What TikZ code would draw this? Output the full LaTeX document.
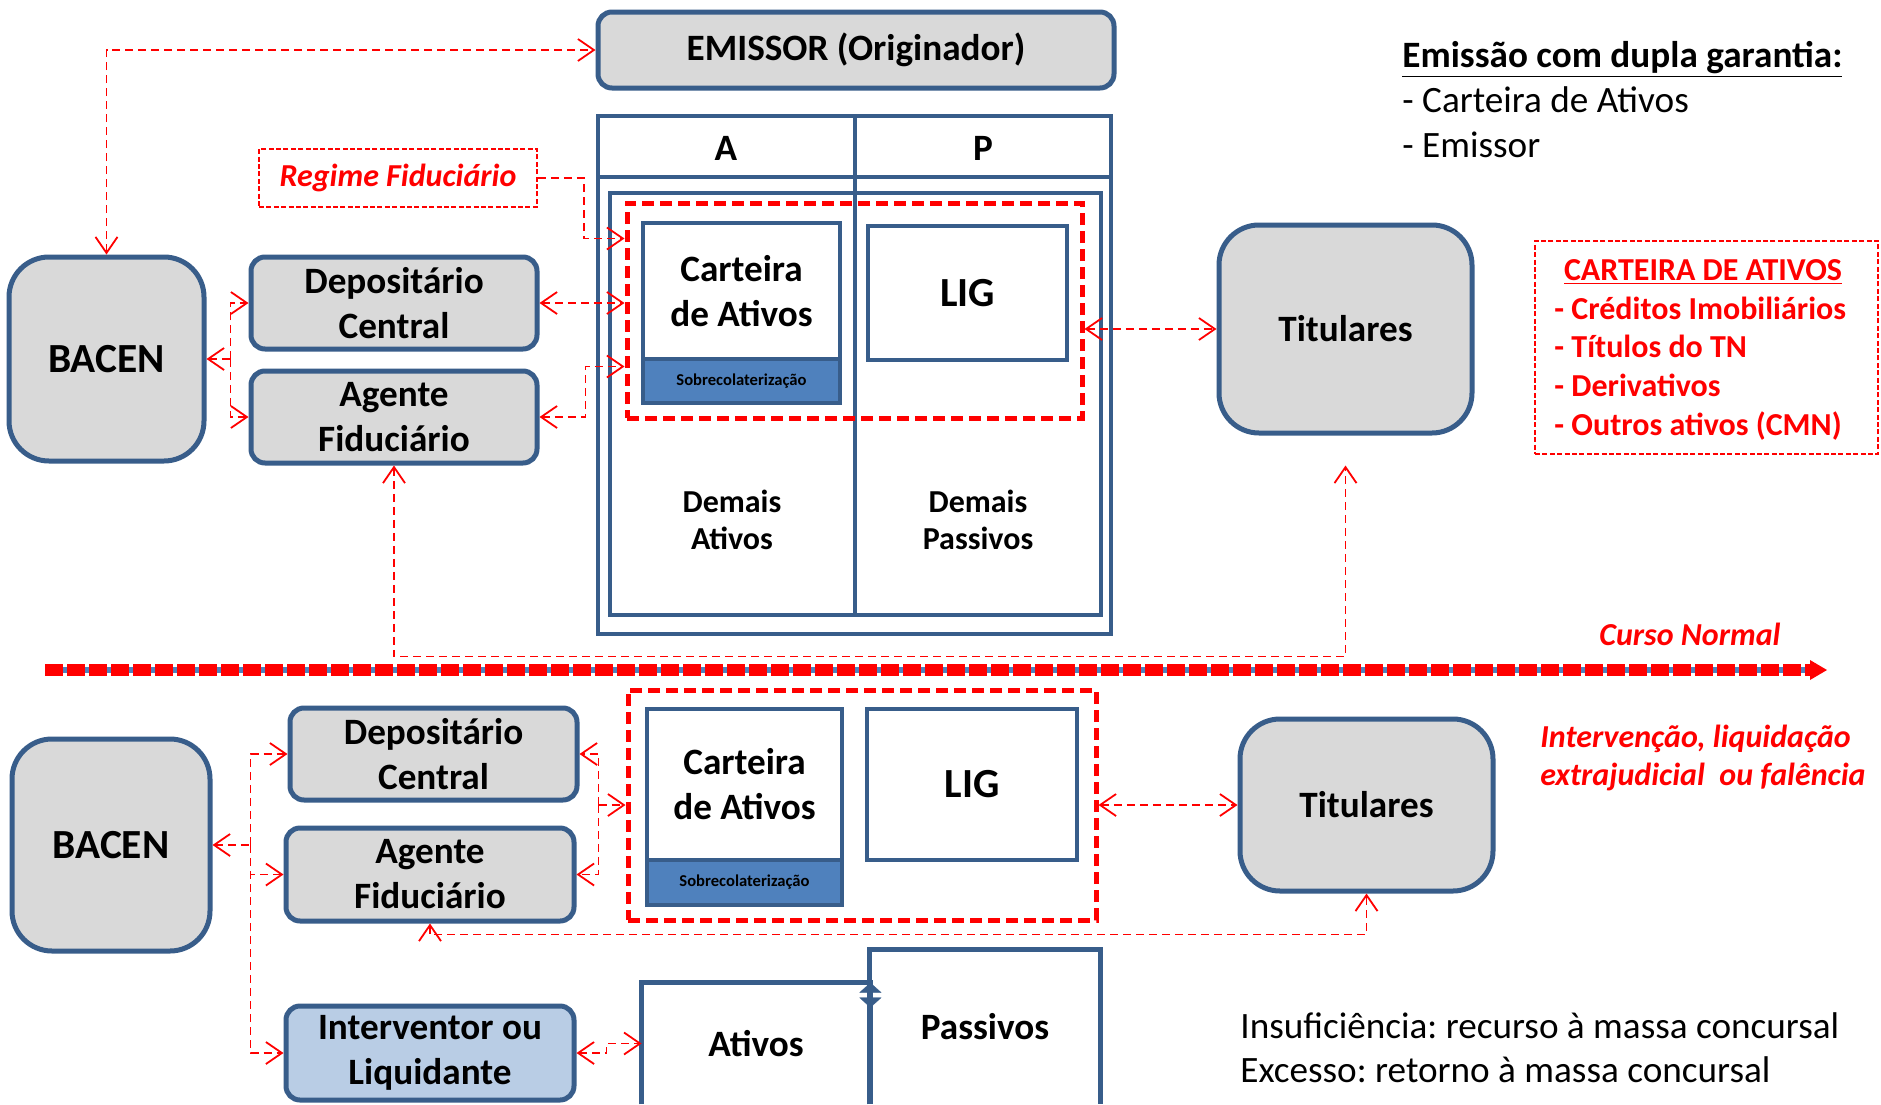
\documentclass[tikz,border=0pt]{standalone}
\usepackage{fontspec}
\setmainfont{Carlito}
\usetikzlibrary{arrows.meta}
\definecolor{MyBorder}{HTML}{385D8A}
\definecolor{MyGray}{HTML}{D9D9D9}
\definecolor{MyBlue}{HTML}{4F81BD}
\definecolor{MyLight}{HTML}{B9CDE5}
\definecolor{MyRed}{HTML}{FF0000}
\newcommand{\bigtxt}{\fontsize{18.6}{22.5}\selectfont\bfseries}
\newcommand{\midtxt}{\fontsize{16}{18.6}\selectfont\bfseries}
\frenchspacing
\tikzset{
  greybox/.style={draw=MyBorder, line width=2.5pt, fill=MyGray, rounded corners=7pt, align=center, font=\bigtxt},
  whitebox/.style={draw=MyBorder, line width=2.2pt, fill=white, align=center, font=\bigtxt},
  sheet/.style={draw=MyBorder, line width=2pt},
  redframe/.style={draw=MyRed, line width=2.5pt, dash pattern=on 6pt off 3pt},
  thinframe/.style={draw=MyRed, line width=0.8pt, dash pattern=on 2.5pt off 1.2pt},
  link/.style={MyRed, line width=0.9pt, dash pattern=on 4pt off 2.5pt, >={Straight Barb[length=8pt, width=11pt]}},
  redtext/.style={MyRed, font=\midtxt\itshape}
}
\begin{document}
\begin{tikzpicture}[x=0.5pt, y=-0.5pt, every node/.style={inner sep=0pt}]
\useasboundingbox[fill=white] (0,0) rectangle (1881,1104);

% curso normal
\node[greybox] (emissor) at (856,50) [minimum width=258pt, minimum height=38pt] {EMISSOR (Originador)};
\draw[sheet] (598,116) rectangle (1111,634);
\draw[sheet] (598,177) -- (1111,177);
\draw[sheet] (610,193) rectangle (1101,615);
\draw[sheet] (855,116) -- (855,615);
\node[font=\bigtxt] (colA) at (726,148) {A};
\node[font=\bigtxt] (colP) at (983,148) {P};
\node[redframe, minimum width=227.5pt, minimum height=107.5pt] (redtop) at (854.5,310.5) {};
\node[whitebox, minimum width=98.5pt, minimum height=68pt] (carteira) at (741.5,291) {Carteira\\de Ativos};
\node[whitebox, fill=MyBlue, minimum width=98.5pt, minimum height=22pt, font=\fontsize{8.3}{10}\selectfont\bfseries] (sobre) at (741.5,381) {Sobrecolaterização};
\node[whitebox, minimum width=99.5pt, minimum height=67pt, font=\fontsize{20.7}{24}\selectfont\bfseries] (lig) at (967.5,293) {LIG};
\node[align=center, font=\midtxt] (demA) at (732,520) {Demais\\Ativos};
\node[align=center, font=\midtxt] (demP) at (978,520) {Demais\\Passivos};

\node[greybox, rounded corners=20pt, minimum width=97.5pt, minimum height=102pt, font=\fontsize{20.7}{24}\selectfont\bfseries] (bacen) at (106.5,359) {BACEN};
\node[greybox, minimum width=143pt, minimum height=46pt] (depo) at (394,303) {Depositário\\Central};
\node[greybox, minimum width=143pt, minimum height=46pt] (agente) at (394,417) {Agente\\Fiduciário};
\node[thinframe, redtext, minimum width=139pt, minimum height=29pt] (regime) at (398,178) {Regime Fiduciário};
\node[greybox, rounded corners=20pt, minimum width=126.5pt, minimum height=104pt] (titulares) at (1345.5,329) {Titulares};

\node[anchor=base west, font=\bigtxt] (dupla) at (1402,67) {\underline{Emissão com dupla garantia:}};
\node[anchor=base west, font=\fontsize{18.6}{22.5}\selectfont] (dupla1) at (1402,112) {- Carteira de Ativos};
\node[anchor=base west, font=\fontsize{18.6}{22.5}\selectfont] (dupla2) at (1402,157) {- Emissor};

\node[thinframe, minimum width=171.5pt, minimum height=106.5pt] (lista) at (1706.5,347.5) {};
\node[anchor=base, MyRed, font=\midtxt] (listah) at (1703,280) {\underline{CARTEIRA DE ATIVOS}};
\foreach \t [count=\i from 0] in {- Créditos Imobiliários, - Títulos do TN, - Derivativos, - Outros ativos (CMN)}
  \node[anchor=base west, MyRed, font=\midtxt] (item\i) at (1554,{319+38.7*\i}) {\t};

\coordinate (bj) at ([xshift=12pt]bacen.east);
\coordinate (tup) at ([yshift=-15pt]titulares.south);
\draw[link, <->] (bacen.north) |- (emissor.west);
\draw[link, ->] (regime.east) -- ++(46,0) |- ([yshift=36pt]redtop.west);
\draw[link, <->] (depo.east) -- (redtop.west |- depo.east);
\draw[link, <->] (agente.east) -- ++(46,0) |- ([yshift=-28pt]redtop.west);
\draw[link, <-] (bacen.east) -- (bj);
\draw[link, ->] (bj) |- (depo.west);
\draw[link, ->] (bj) |- (agente.west);
\draw[link, <->] (redtop.east |- titulares.west) -- (titulares.west);
\draw[link, <->] (agente.south) -- ++(0,191) -| (tup);

\node[redtext, anchor=base] (curso) at (1690,645) {Curso Normal};
\draw[MyBlue, line width=3pt] (45,670) -- (1814,670);
\draw[MyRed, line width=6pt, dash pattern=on 9pt off 2pt] (45,670) -- (1812,670);
\fill[MyRed] (1810,660) -- (1827,670) -- (1810,680) -- cycle;

% intervencao
\node[greybox, rounded corners=20pt, minimum width=99pt, minimum height=106pt, font=\fontsize{20.7}{24}\selectfont\bfseries] (bacen2) at (111,845) {BACEN};
\node[greybox, minimum width=143.5pt, minimum height=46pt] (depo2) at (433.5,754) {Depositário\\Central};
\node[greybox, minimum width=144pt, minimum height=46.5pt] (agente2) at (430,874.5) {Agente\\Fiduciário};
\node[greybox, fill=MyLight, minimum width=144pt, minimum height=47pt] (interv) at (430,1053) {Interventor ou\\Liquidante};
\node[redframe, minimum width=234pt, minimum height=115pt] (redbot) at (862,805) {};
\node[whitebox, minimum width=97.5pt, minimum height=75.5pt] (carteira2) at (744.5,784.5) {Carteira\\de Ativos};
\node[whitebox, fill=MyBlue, minimum width=97.5pt, minimum height=22.5pt, font=\fontsize{8.3}{10}\selectfont\bfseries] (sobre2) at (744.5,882.5) {Sobrecolaterização};
\node[whitebox, minimum width=105pt, minimum height=75.5pt, font=\fontsize{20.7}{24}\selectfont\bfseries] (lig2) at (972,784.5) {LIG};
\node[greybox, rounded corners=20pt, minimum width=126.5pt, minimum height=86pt] (titulares2) at (1366.5,805) {Titulares};
\node[font=\bigtxt, minimum width=114pt, minimum height=60.5pt] (ativos) at (756,1043.5) {Ativos};
\node[font=\bigtxt, minimum width=115pt, minimum height=77pt] (passivos) at (985,1027) {Passivos};
\draw[sheet, line width=2.2pt] (ativos.south west) |- (ativos.north east) -- (ativos.south east);
\draw[sheet, line width=2.2pt] (passivos.south west) |- (passivos.north east) -- (passivos.south east);
\draw[MyBorder, line width=2.5pt, {Triangle[length=5pt, width=11pt, line width=0.1pt]}-{Triangle[length=5pt, width=11pt, line width=0.1pt]}] (ativos.north east) -- ++(0,25);

\node[redtext, anchor=base west] (interv1) at (1540,747) {Intervenção, liquidação};
\node[redtext, anchor=base west] (interv2) at (1540,785) {extrajudicial\ \ ou falência};
\node[anchor=base west, font=\fontsize{18.6}{22.5}\selectfont] (insuf) at (1240,1038) {Insuficiência: recurso à massa concursal};
\node[anchor=base west, font=\fontsize{18.6}{22.5}\selectfont] (exces) at (1240,1082) {Excesso: retorno à massa concursal};

\coordinate (bj2) at ([xshift=19pt]bacen2.east);
\coordinate (dj) at ([xshift=-13.5pt]redbot.west);
\draw[link, <-] (bacen2.east) -- (bj2);
\draw[link, ->] (bj2) |- (depo2.west);
\draw[link, ->] (bj2) |- (agente2.west);
\draw[link, ->] (bj2) |- (interv.west);
\draw[link, ->] (dj) -- (redbot.west);
\draw[link, ->] (dj) |- (depo2.east);
\draw[link, ->] (dj) |- (agente2.east);
\draw[link, <->] (redbot.east) -- (titulares2.west);
\draw[link, <->] (agente2.south) -- ++(0,11) -| (titulares2.south);
\draw[link, <->] (interv.east) -- ++(30,0) |- (ativos.west);
\end{tikzpicture}
\end{document}
